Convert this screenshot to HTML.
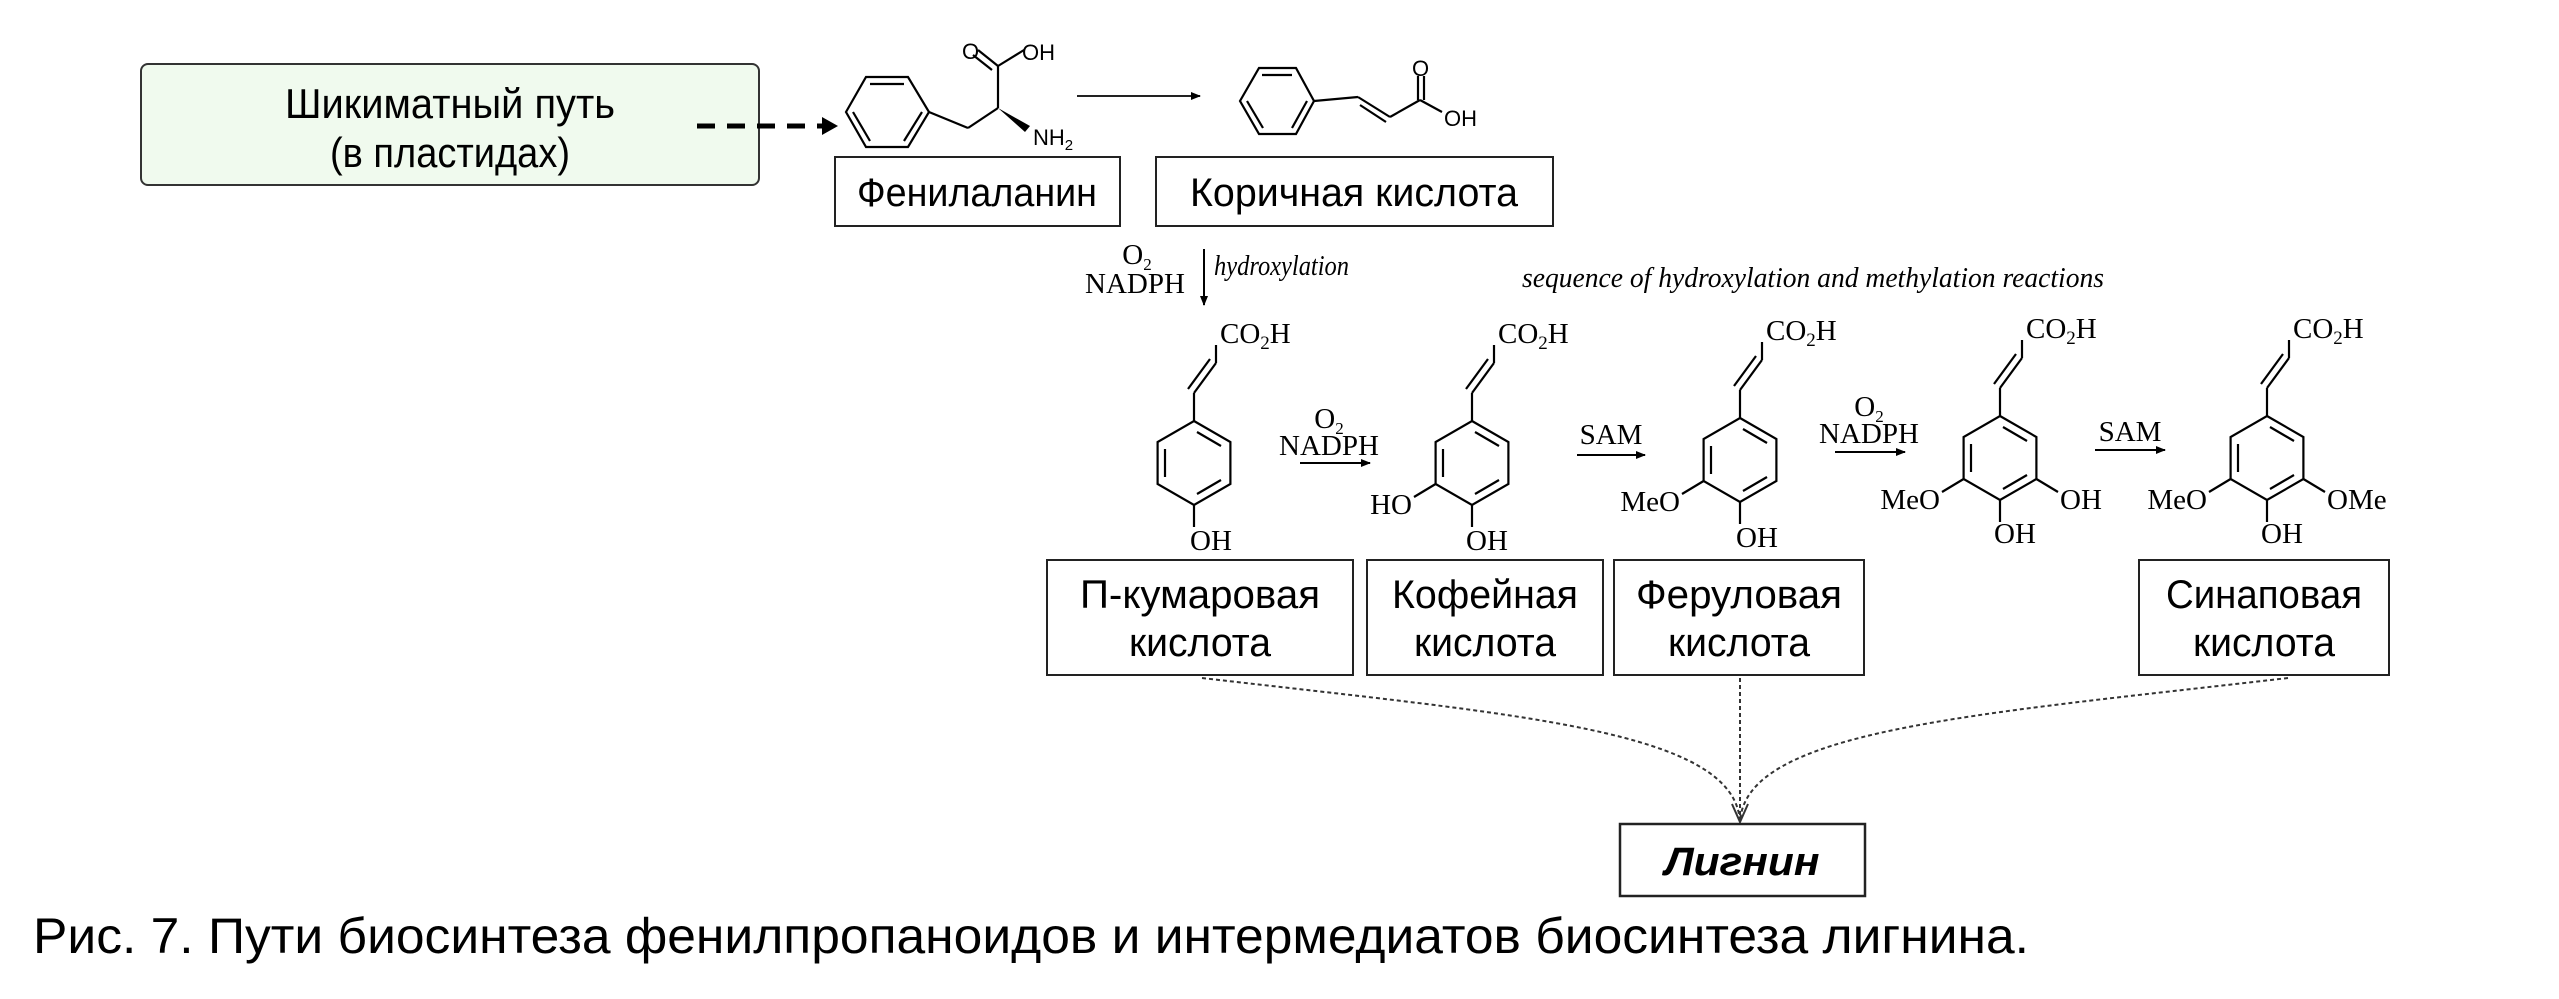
<!DOCTYPE html>
<html><head><meta charset="utf-8"><style>
html,body{margin:0;padding:0;background:#fff}
svg{display:block}
.s{font-family:"Liberation Sans",sans-serif}
.c{font-family:"Liberation Serif",serif;font-size:29px}
</style></head><body>
<svg width="2559" height="999" viewBox="0 0 2559 999" xmlns="http://www.w3.org/2000/svg">
<defs>
<g id="ring" fill="none" stroke="#000" stroke-width="2.2">
<polygon points="0,-42 36.4,-21 36.4,21 0,42 -36.4,21 -36.4,-21"/>
<line x1="3" y1="-31" x2="27" y2="-17"/>
<line x1="27" y1="17" x2="3" y2="31"/>
<line x1="-29" y1="14" x2="-29" y2="-14"/>
<line x1="0" y1="-42" x2="0" y2="-70"/>
<line x1="0" y1="-70" x2="22" y2="-100"/>
<line x1="-6" y1="-74" x2="16" y2="-104"/>
<line x1="22" y1="-100" x2="22" y2="-118"/>
<line x1="0" y1="42" x2="0" y2="64"/>
</g>
<marker id="ah" markerWidth="10" markerHeight="10" refX="9" refY="5" orient="auto" markerUnits="userSpaceOnUse"><path d="M0,1 L10,5 L0,9 z" fill="#000"/></marker>
</defs>

<rect x="141" y="64" width="618" height="121" rx="7" fill="#f0faee" stroke="#333" stroke-width="2"/>
<text class="s" x="450" y="118" font-size="42" text-anchor="middle" textLength="330" lengthAdjust="spacingAndGlyphs">Шикиматный путь</text>
<text class="s" x="450" y="167" font-size="42" text-anchor="middle" textLength="240" lengthAdjust="spacingAndGlyphs">(в пластидах)</text>
<line x1="697" y1="126" x2="822" y2="126" stroke="#000" stroke-width="5" stroke-dasharray="18 12"/>
<path d="M822,117 L838,126 L822,135 z" fill="#000"/>

<g fill="none" stroke="#000" stroke-width="2.2">
<polygon points="846,112 866,77 908,77 929,112 908,147 866,147"/>
<line x1="870" y1="84" x2="904" y2="84"/><line x1="853" y1="112" x2="870" y2="141"/><line x1="904" y1="141" x2="922" y2="112"/>
<line x1="929" y1="112" x2="968" y2="128"/><line x1="968" y1="128" x2="998" y2="108"/>
<line x1="998" y1="108" x2="998" y2="66"/><line x1="998" y1="66" x2="1024" y2="50"/>
<line x1="998" y1="66" x2="978" y2="50"/><line x1="992" y1="70" x2="973" y2="55"/>
</g>
<path d="M998,108 L1030,126 L1025,132 z" fill="#000"/>
<text class="s" x="962" y="59" font-size="22">O</text>
<text class="s" x="1022" y="60" font-size="22">OH</text>
<text class="s" x="1033" y="145" font-size="22">NH<tspan font-size="15" dy="5">2</tspan></text>
<line x1="1077" y1="96" x2="1200" y2="96" stroke="#222" stroke-width="2" marker-end="url(#ah)"/>

<g fill="none" stroke="#000" stroke-width="2.2">
<polygon points="1240,101 1259,68 1296,68 1314,101 1296,134 1259,134"/>
<line x1="1262" y1="75" x2="1292" y2="75"/><line x1="1247" y1="101" x2="1263" y2="128"/><line x1="1292" y1="128" x2="1307" y2="101"/>
<line x1="1314" y1="101" x2="1358" y2="97"/><line x1="1358" y1="97" x2="1390" y2="117"/><line x1="1360" y1="105" x2="1386" y2="122"/>
<line x1="1390" y1="117" x2="1420" y2="100"/><line x1="1418" y1="100" x2="1418" y2="76"/><line x1="1424" y1="100" x2="1424" y2="76"/>
<line x1="1420" y1="100" x2="1442" y2="112"/>
</g>
<text class="s" x="1412" y="76" font-size="22">O</text>
<text class="s" x="1444" y="126" font-size="22">OH</text>

<rect x="835" y="157" width="285" height="69" fill="#fff" stroke="#222" stroke-width="2"/>
<text class="s" x="977" y="206" font-size="40" text-anchor="middle" textLength="240" lengthAdjust="spacingAndGlyphs">Фенилаланин</text>
<rect x="1156" y="157" width="397" height="69" fill="#fff" stroke="#222" stroke-width="2"/>
<text class="s" x="1354" y="206" font-size="40" text-anchor="middle" textLength="328" lengthAdjust="spacingAndGlyphs">Коричная кислота</text>

<text class="c" x="1137" y="264" text-anchor="middle" font-size="25">O<tspan font-size="17" dy="6">2</tspan></text>
<text class="c" x="1135" y="293" text-anchor="middle" font-size="25">NADPH</text>
<line x1="1204" y1="249" x2="1204" y2="305" stroke="#000" stroke-width="2" marker-end="url(#ah)"/>
<text class="c" x="1214" y="275" font-size="20" font-style="italic" textLength="135" lengthAdjust="spacingAndGlyphs">hydroxylation</text>
<text class="c" x="1522" y="287" font-size="22" font-style="italic" textLength="582" lengthAdjust="spacingAndGlyphs">sequence of hydroxylation and methylation reactions</text>

<use href="#ring" x="1194" y="463"/>
<text class="c" x="1220" y="343">CO<tspan font-size="19" dy="6">2</tspan><tspan dy="-6">H</tspan></text>
<text class="c" x="1190" y="550">OH</text>

<use href="#ring" x="1472" y="463"/>
<line x1="1435.6" y1="484" x2="1414" y2="497" stroke="#000" stroke-width="2.2"/>
<text class="c" x="1498" y="343">CO<tspan font-size="19" dy="6">2</tspan><tspan dy="-6">H</tspan></text>
<text class="c" x="1466" y="550">OH</text>
<text class="c" x="1412" y="514" text-anchor="end">HO</text>

<use href="#ring" x="1740" y="460"/>
<line x1="1703.6" y1="481" x2="1682" y2="494" stroke="#000" stroke-width="2.2"/>
<text class="c" x="1766" y="340">CO<tspan font-size="19" dy="6">2</tspan><tspan dy="-6">H</tspan></text>
<text class="c" x="1736" y="547">OH</text>
<text class="c" x="1680" y="511" text-anchor="end">MeO</text>

<use href="#ring" x="2000" y="458"/>
<line x1="1963.6" y1="479" x2="1942" y2="492" stroke="#000" stroke-width="2.2"/>
<line x1="2036.4" y1="479" x2="2058" y2="492" stroke="#000" stroke-width="2.2"/>
<text class="c" x="2026" y="338">CO<tspan font-size="19" dy="6">2</tspan><tspan dy="-6">H</tspan></text>
<text class="c" x="1994" y="543">OH</text>
<text class="c" x="1940" y="509" text-anchor="end">MeO</text>
<text class="c" x="2060" y="509">OH</text>

<use href="#ring" x="2267" y="458"/>
<line x1="2230.6" y1="479" x2="2209" y2="492" stroke="#000" stroke-width="2.2"/>
<line x1="2303.4" y1="479" x2="2325" y2="492" stroke="#000" stroke-width="2.2"/>
<text class="c" x="2293" y="338">CO<tspan font-size="19" dy="6">2</tspan><tspan dy="-6">H</tspan></text>
<text class="c" x="2261" y="543">OH</text>
<text class="c" x="2207" y="509" text-anchor="end">MeO</text>
<text class="c" x="2327" y="509">OMe</text>

<text class="c" x="1329" y="428" text-anchor="middle" font-size="25">O<tspan font-size="17" dy="6">2</tspan></text>
<text class="c" x="1329" y="455" text-anchor="middle" font-size="25">NADPH</text>
<line x1="1300" y1="463" x2="1370" y2="463" stroke="#000" stroke-width="2" marker-end="url(#ah)"/>
<text class="c" x="1611" y="444" text-anchor="middle" font-size="25">SAM</text>
<line x1="1577" y1="455" x2="1645" y2="455" stroke="#000" stroke-width="2" marker-end="url(#ah)"/>
<text class="c" x="1869" y="416" text-anchor="middle" font-size="25">O<tspan font-size="17" dy="6">2</tspan></text>
<text class="c" x="1869" y="443" text-anchor="middle" font-size="25">NADPH</text>
<line x1="1835" y1="452" x2="1905" y2="452" stroke="#000" stroke-width="2" marker-end="url(#ah)"/>
<text class="c" x="2130" y="441" text-anchor="middle" font-size="25">SAM</text>
<line x1="2095" y1="450" x2="2165" y2="450" stroke="#000" stroke-width="2" marker-end="url(#ah)"/>

<g fill="#fff" stroke="#222" stroke-width="2">
<rect x="1047" y="560" width="306" height="115"/>
<rect x="1367" y="560" width="236" height="115"/>
<rect x="1614" y="560" width="250" height="115"/>
<rect x="2139" y="560" width="250" height="115"/>
</g>
<g class="s" font-size="40" text-anchor="middle">
<text x="1200" y="608" textLength="240" lengthAdjust="spacingAndGlyphs">П-кумаровая</text><text x="1200" y="656" textLength="142" lengthAdjust="spacingAndGlyphs">кислота</text>
<text x="1485" y="608" textLength="186" lengthAdjust="spacingAndGlyphs">Кофейная</text><text x="1485" y="656" textLength="142" lengthAdjust="spacingAndGlyphs">кислота</text>
<text x="1739" y="608" textLength="206" lengthAdjust="spacingAndGlyphs">Феруловая</text><text x="1739" y="656" textLength="142" lengthAdjust="spacingAndGlyphs">кислота</text>
<text x="2264" y="608" textLength="196" lengthAdjust="spacingAndGlyphs">Синаповая</text><text x="2264" y="656" textLength="142" lengthAdjust="spacingAndGlyphs">кислота</text>
</g>

<g fill="none" stroke="#333" stroke-width="2" stroke-dasharray="4 3">
<path d="M1202,678 C1520,715 1735,730 1740,822"/>
<path d="M2288,678 C1970,715 1745,730 1740,822"/>
<path d="M1740,678 L1740,822"/>
</g>
<path d="M1732,804 L1740,822 L1748,804" fill="none" stroke="#333" stroke-width="2"/>

<rect x="1620" y="824" width="245" height="72" fill="#fff" stroke="#222" stroke-width="2.5"/>
<text class="s" x="1742" y="875" font-size="40" font-weight="bold" font-style="italic" text-anchor="middle" textLength="155" lengthAdjust="spacingAndGlyphs">Лигнин</text>

<text class="s" x="33" y="953" font-size="50" textLength="1996" lengthAdjust="spacingAndGlyphs">Рис. 7. Пути биосинтеза фенилпропаноидов и интермедиатов биосинтеза лигнина.</text>
</svg>
</body></html>
